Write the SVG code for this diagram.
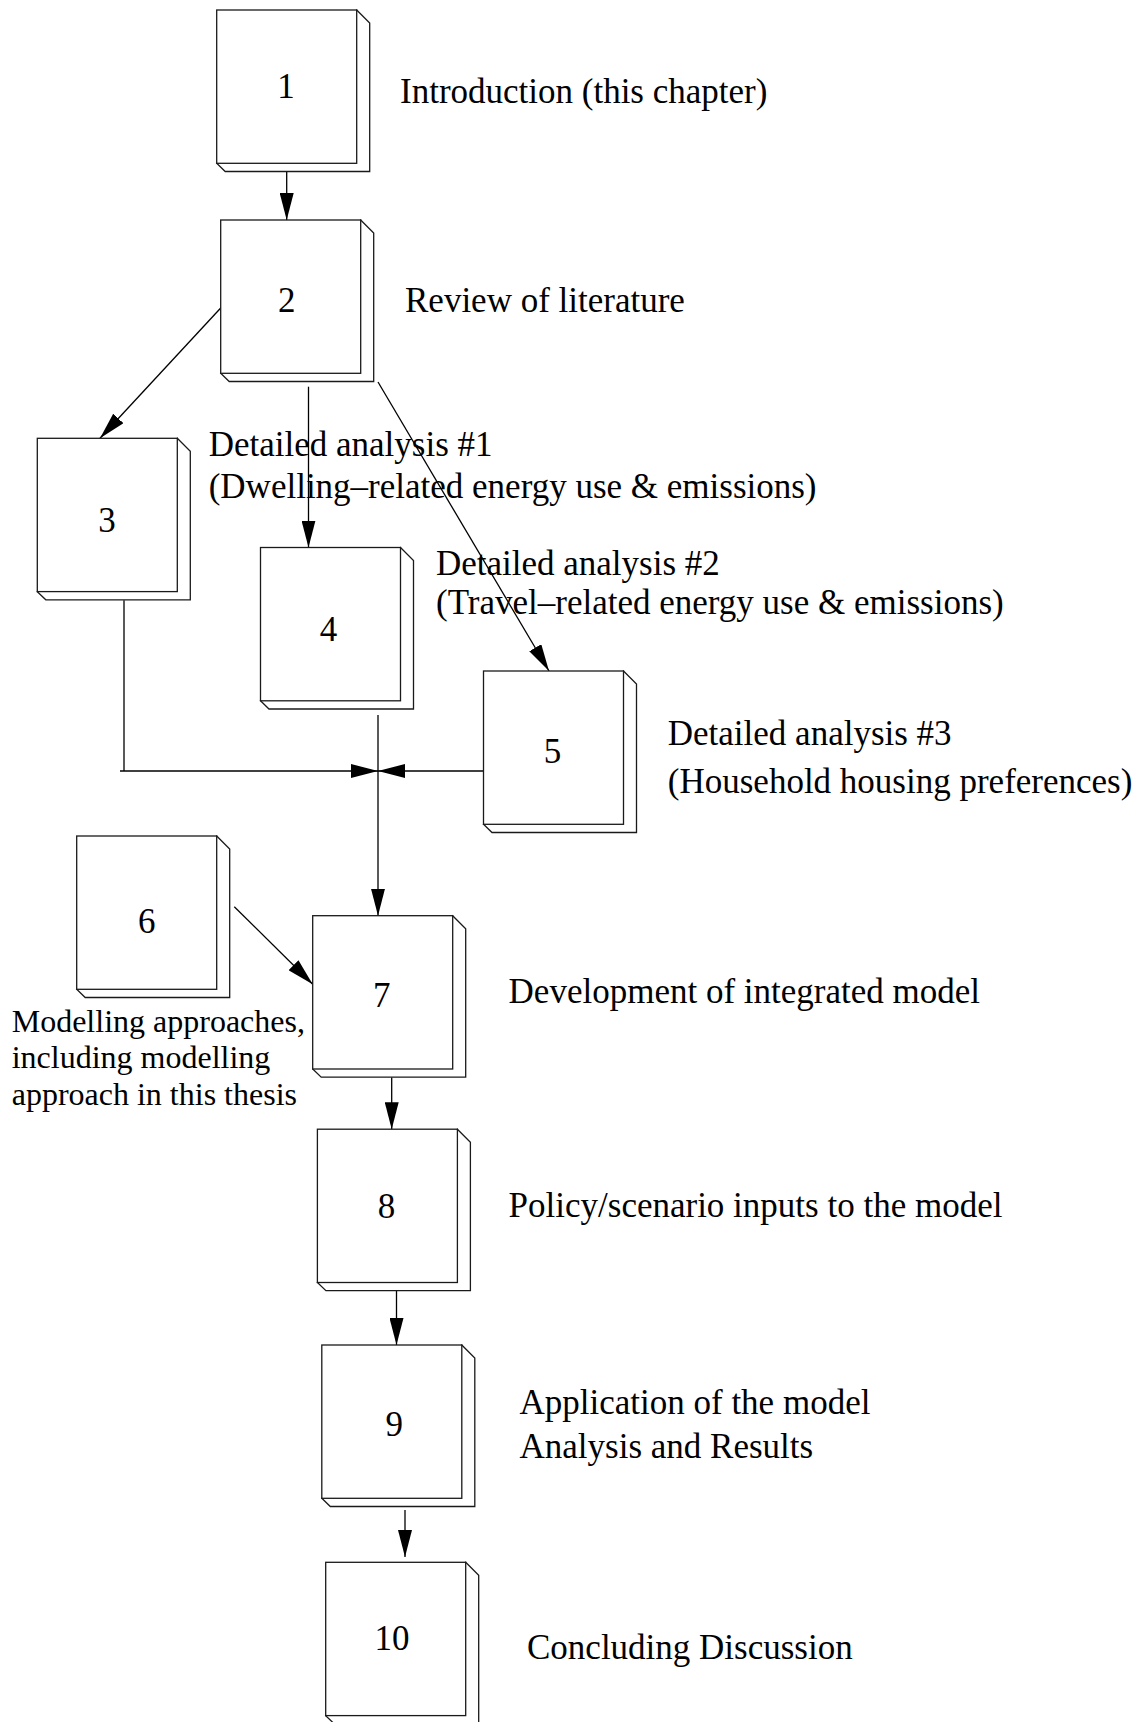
<svg xmlns="http://www.w3.org/2000/svg" xmlns:xlink="http://www.w3.org/1999/xlink" width="1139" height="1722" viewBox="0 0 1139 1722">
<style>
.bg{fill:#fff}
.box{fill:#fff;stroke:#1a1a1a;stroke-width:1.3}
.num{font-family:"Liberation Serif","Times New Roman",serif;font-size:35px;text-anchor:middle;fill:#000}
.lbl{font-family:"Liberation Serif","Times New Roman",serif;font-size:35px;fill:#000}
.sm{font-family:"Liberation Serif","Times New Roman",serif;font-size:32px;fill:#000}
.con{fill:none;stroke:#000;stroke-width:1.3}
</style>
<defs>
<marker id="ah" markerUnits="userSpaceOnUse" markerWidth="28" markerHeight="14" refX="27" refY="7" orient="auto">
<path d="M0,0 L27,7 L0,14 z" fill="#000"/>
</marker>
<g id="book">
<path class="box" d="M140,0 L153,13 L153,161.5 L8.5,161.5 L0,153.3 Z"/>
<rect class="box" x="0" y="0" width="140" height="153.3"/>
</g>
</defs>
<rect class="bg" x="0" y="0" width="1139" height="1722"/>

<g id="connectors">
<line class="con" x1="286.7" y1="172" x2="286.7" y2="220" marker-end="url(#ah)"/>
<line class="con" x1="220.7" y1="308" x2="100" y2="438.3" marker-end="url(#ah)"/>
<line class="con" x1="308.5" y1="386.7" x2="308.5" y2="547.5" marker-end="url(#ah)"/>
<line class="con" x1="378" y1="382" x2="549" y2="671" marker-end="url(#ah)"/>
<polyline class="con" points="124,600.3 124,771"/>
<line class="con" x1="120" y1="771" x2="378" y2="771" marker-end="url(#ah)"/>
<line class="con" x1="488" y1="771" x2="378" y2="771" marker-end="url(#ah)"/>
<line class="con" x1="378" y1="715" x2="378" y2="915.7" marker-end="url(#ah)"/>
<line class="con" x1="234.3" y1="906.7" x2="312.7" y2="984.3" marker-end="url(#ah)"/>
<line class="con" x1="391.7" y1="1077.3" x2="391.7" y2="1129.2" marker-end="url(#ah)"/>
<line class="con" x1="396.5" y1="1291" x2="396.5" y2="1345" marker-end="url(#ah)"/>
<line class="con" x1="405" y1="1510" x2="405" y2="1557" marker-end="url(#ah)"/>
</g>

<g id="node1">
<use xlink:href="#book" x="216.7" y="10"/>
<text class="num" x="286" y="98">1</text>
<text class="lbl" x="400" y="103">Introduction (this chapter)</text>
</g>
<g id="node2">
<use xlink:href="#book" x="220.7" y="220"/>
<text class="num" x="286.7" y="311.7">2</text>
<text class="lbl" x="405" y="311.7">Review of literature</text>
</g>
<g id="node3">
<use xlink:href="#book" x="37.3" y="438.3"/>
<text class="num" x="107" y="531.7">3</text>
</g>
<g id="label3">
<text class="lbl" x="208.7" y="456">Detailed analysis #1</text>
<text class="lbl" x="208.7" y="498">(Dwelling–related energy use &amp; emissions)</text>
</g>
<g id="node4">
<use xlink:href="#book" x="260.5" y="547.5"/>
<text class="num" x="328.4" y="641">4</text>
<text class="lbl" x="436" y="575">Detailed analysis #2</text>
<text class="lbl" x="436" y="614">(Travel–related energy use &amp; emissions)</text>
</g>
<g id="node5">
<use xlink:href="#book" x="483.5" y="671"/>
<text class="num" x="552.5" y="763">5</text>
<text class="lbl" x="667.8" y="745">Detailed analysis #3</text>
<text class="lbl" x="667.8" y="793">(Household housing preferences)</text>
</g>
<g id="node6">
<use xlink:href="#book" x="76.7" y="836"/>
<text class="num" x="146.7" y="933.3">6</text>
<text class="sm" x="11.7" y="1032.3">Modelling approaches,</text>
<text class="sm" x="11.7" y="1068.3">including modelling</text>
<text class="sm" x="11.7" y="1105">approach in this thesis</text>
</g>
<g id="node7">
<use xlink:href="#book" x="312.7" y="915.7"/>
<text class="num" x="381.7" y="1006.7">7</text>
<text class="lbl" x="508.6" y="1003">Development of integrated model</text>
</g>
<g id="node8">
<use xlink:href="#book" x="317.4" y="1129.2"/>
<text class="num" x="386.6" y="1218">8</text>
<text class="lbl" x="508.6" y="1217">Policy/scenario inputs to the model</text>
</g>
<g id="node9">
<use xlink:href="#book" x="321.8" y="1345"/>
<text class="num" x="394.3" y="1436">9</text>
<text class="lbl" x="519.5" y="1414">Application of the model</text>
<text class="lbl" x="519.5" y="1458">Analysis and Results</text>
</g>
<g id="node10">
<use xlink:href="#book" x="325.7" y="1562.3"/>
<text class="num" x="392" y="1650">10</text>
<text class="lbl" x="527" y="1659">Concluding Discussion</text>
</g>
</svg>
